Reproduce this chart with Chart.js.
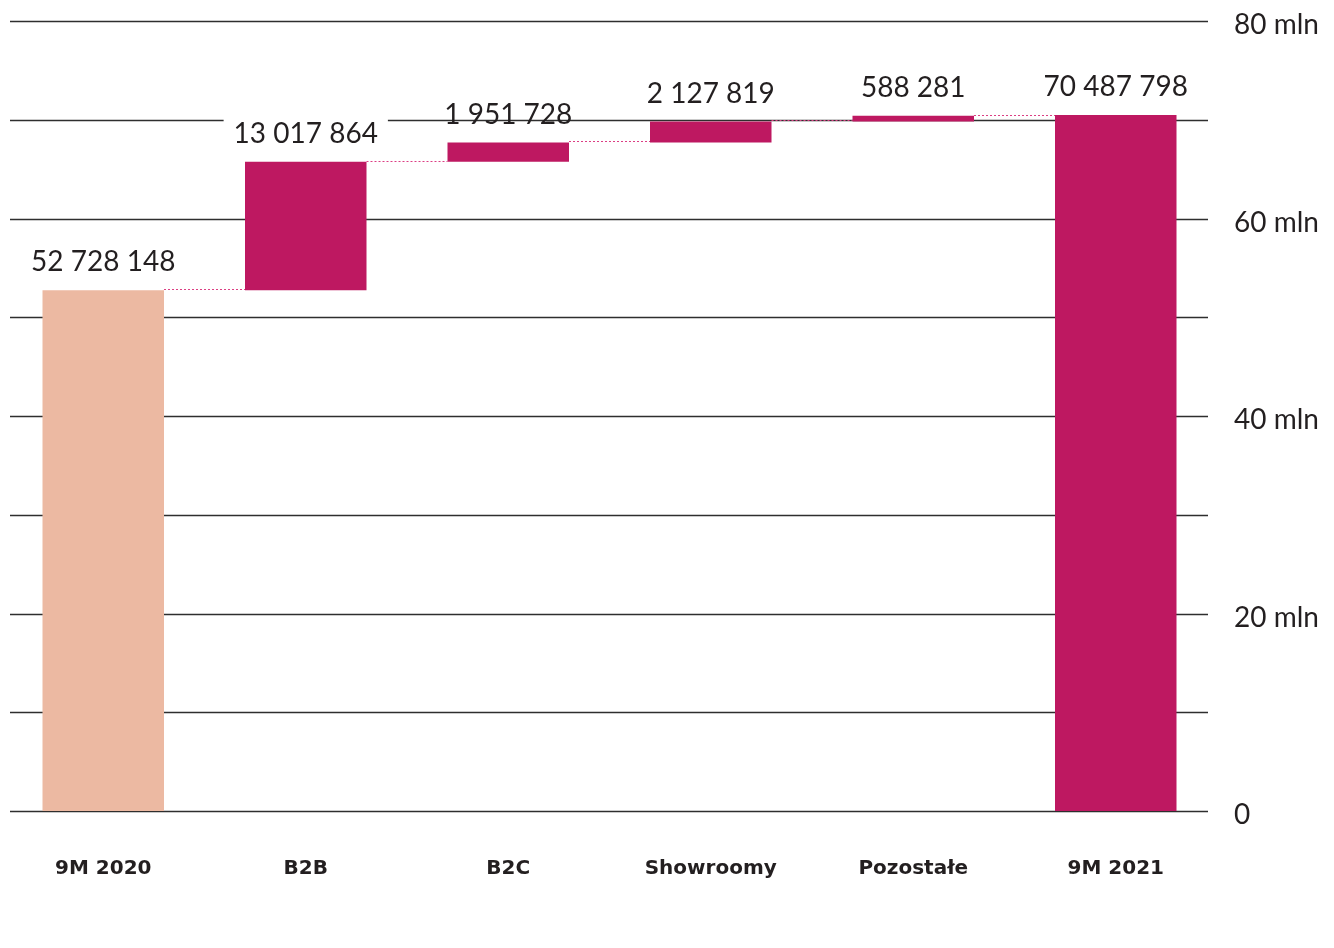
<!DOCTYPE html>
<html lang="pl">
<head>
<meta charset="utf-8">
<title>Przychody 9M 2020 – 9M 2021</title>
<script src="https://cdn.jsdelivr.net/npm/chart.js@4/dist/chart.umd.min.js"></script>
<style>
  html, body { margin: 0; padding: 0; background: #fff; }
  canvas { display: block; }
</style>
</head>
<body>
<canvas id="chart" width="1334" height="948"></canvas>
<script>
// Revenue bridge: 9M 2020 -> channel changes -> 9M 2021 (PLN)
const categories = ['9M 2020', 'B2B', 'B2C', 'Showroomy', 'Pozostałe', '9M 2021'];
const openingValue = 52728148;
const changeValues = [13017864, 1951728, 2127819, 588281];
const closingValue = 70487798;
const yTickValues = [0, 20000000, 40000000, 60000000, 80000000];
const yTickLabels = ['0', '20 mln', '40 mln', '60 mln', '80 mln'];

const MAGENTA = '#be1861';
const PEACH = '#ecb9a2';
const INK = '#231f20';

// Floating bars [start, end] and the numbers printed above them
const ranges = [[0, openingValue]];
const labelValues = [openingValue];
let running = openingValue;
changeValues.forEach(v => {
  ranges.push([running, running + v]);
  labelValues.push(v);
  running += v;
});
ranges.push([0, closingValue]);
labelValues.push(closingValue);

const fmt = n => String(n).replace(/\B(?=(\d{3})+(?!\d))/g, ' ');

const waterfallDecor = {
  id: 'waterfallDecor',
  beforeDatasetsDraw(chart) {
    const { ctx, chartArea, scales: { y } } = chart;
    ctx.save();
    ctx.strokeStyle = '#2e2e2e';
    ctx.lineWidth = 1.3;
    y.ticks.forEach(t => {
      const py = Math.round(y.getPixelForValue(t.value)) + 0.5;
      ctx.beginPath();
      ctx.moveTo(chartArea.left + 8, py);
      ctx.lineTo(chartArea.right - 9, py);
      ctx.stroke();
    });
    ctx.restore();
  },
  afterDatasetsDraw(chart) {
    const { ctx, scales: { y } } = chart;
    const bars = chart.getDatasetMeta(0).data;
    ctx.save();
    // dotted connectors between consecutive bar tops
    ctx.strokeStyle = '#dc3f84';
    ctx.lineWidth = 1;
    ctx.setLineDash([2, 2]);
    for (let i = 0; i < bars.length - 1; i++) {
      const a = bars[i].getProps(['x', 'width'], true);
      const b = bars[i + 1].getProps(['x', 'width'], true);
      const py = Math.round(y.getPixelForValue(ranges[i][1])) - 0.5;
      ctx.beginPath();
      ctx.moveTo(a.x + a.width / 2, py);
      ctx.lineTo(b.x - b.width / 2, py);
      ctx.stroke();
    }
    ctx.setLineDash([]);
    // value labels, with a white strip behind the upper part of the text
    ctx.font = '28px Lato';
    ctx.textAlign = 'center';
    ctx.textBaseline = 'middle';
    bars.forEach((bar, i) => {
      const p = bar.getProps(['x', 'y', 'base'], true);
      const top = Math.min(p.y, p.base);
      const text = fmt(labelValues[i]);
      const w = ctx.measureText(text).width;
      const cy = top - 28;
      ctx.fillStyle = '#fff';
      ctx.fillRect(p.x - w / 2 - 10, cy - 15, w + 20, 18);
      ctx.fillStyle = INK;
      ctx.fillText(text, p.x, cy);
    });
    ctx.restore();
  }
};

new Chart(document.getElementById('chart'), {
  type: 'bar',
  data: {
    labels: categories,
    datasets: [{
      data: ranges,
      backgroundColor: categories.map((c, i) => i === 0 ? PEACH : MAGENTA),
      borderWidth: 0,
      borderSkipped: false,
      barPercentage: 0.6,
      categoryPercentage: 1
    }]
  },
  options: {
    responsive: false,
    animation: false,
    devicePixelRatio: 1,
    layout: { padding: { left: 2, top: 21, right: 0, bottom: 0 } },
    plugins: { legend: { display: false }, tooltip: { enabled: false } },
    scales: {
      x: {
        grid: { display: false, drawTicks: false },
        border: { display: false },
        ticks: {
          padding: 46,
          color: INK,
          font: { family: 'DejaVu Sans', weight: 'bold', size: 20 }
        },
        afterFit(scale) { scale.height = 137; }
      },
      y: {
        position: 'right',
        min: 0,
        max: 80000000,
        grid: { display: false, drawTicks: false },
        border: { display: false },
        ticks: {
          stepSize: 10000000,
          autoSkip: false,
          padding: 17,
          labelOffset: 4,
          color: INK,
          font: { family: 'Lato', size: 28 },
          callback(v) {
            const i = yTickValues.indexOf(v);
            return i < 0 ? '' : yTickLabels[i];
          }
        },
        afterFit(scale) {
          scale.width = 117;
          scale.paddingTop = 0;
          scale.paddingBottom = 0;
        }
      }
    }
  },
  plugins: [waterfallDecor]
});
</script>
</body>
</html>
